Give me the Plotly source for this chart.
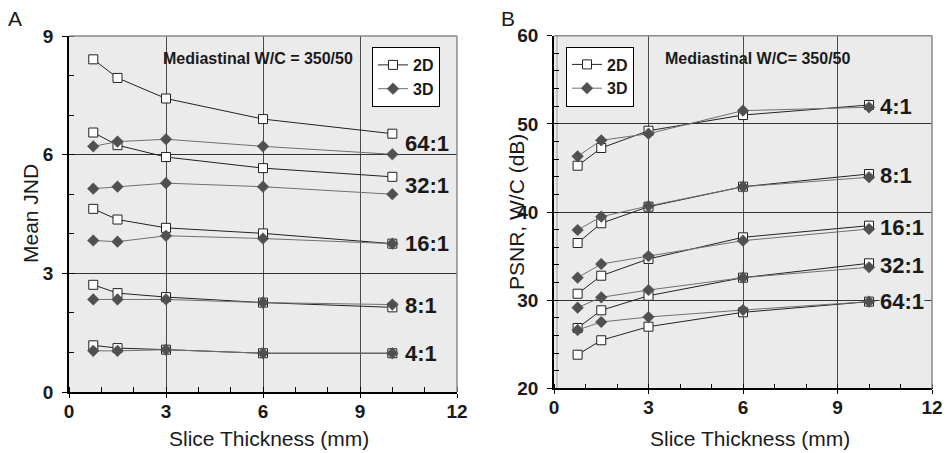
import plotly.graph_objects as go

# ---------------- data ----------------
slice_mm = [0.75, 1.5, 3, 6, 10]
ratio_labels = ["64:1", "32:1", "16:1", "8:1", "4:1"]

# Panel A: Mean JND
jnd_2d_64 = [8.41, 7.94, 7.42, 6.90, 6.53]
jnd_2d_32 = [6.56, 6.24, 5.94, 5.66, 5.44]
jnd_2d_16 = [4.63, 4.36, 4.15, 4.01, 3.75]
jnd_2d_8 = [2.71, 2.50, 2.40, 2.26, 2.14]
jnd_2d_4 = [1.18, 1.11, 1.07, 0.98, 0.98]

jnd_3d_64 = [6.21, 6.33, 6.39, 6.21, 6.01]
jnd_3d_32 = [5.14, 5.19, 5.28, 5.19, 5.00]
jnd_3d_16 = [3.83, 3.80, 3.95, 3.88, 3.75]
jnd_3d_8 = [2.34, 2.34, 2.34, 2.26, 2.21]
jnd_3d_4 = [1.04, 1.04, 1.07, 0.98, 0.98]

# Panel B: PSNR (dB)
psnr_2d_64 = [23.81, 25.45, 26.99, 28.62, 29.83]
psnr_2d_32 = [26.84, 28.85, 30.50, 32.55, 34.18]
psnr_2d_16 = [30.73, 32.77, 34.67, 37.13, 38.45]
psnr_2d_8 = [36.48, 38.72, 40.60, 42.87, 44.31]
psnr_2d_4 = [45.25, 47.26, 49.22, 51.00, 52.14]

psnr_3d_64 = [26.61, 27.52, 28.09, 28.88, 29.83]
psnr_3d_32 = [29.15, 30.32, 31.15, 32.55, 33.73]
psnr_3d_16 = [32.55, 34.10, 35.00, 36.75, 38.07]
psnr_3d_8 = [37.96, 39.47, 40.68, 42.87, 43.94]
psnr_3d_4 = [46.32, 48.13, 48.88, 51.50, 51.88]

x_ticks = [0, 3, 6, 9, 12]
jnd_ticks = [0, 3, 6, 9]
psnr_ticks = [20, 30, 40, 50, 60]

jnd_2d = [jnd_2d_64, jnd_2d_32, jnd_2d_16, jnd_2d_8, jnd_2d_4]
jnd_3d = [jnd_3d_64, jnd_3d_32, jnd_3d_16, jnd_3d_8, jnd_3d_4]
psnr_2d = [psnr_2d_64, psnr_2d_32, psnr_2d_16, psnr_2d_8, psnr_2d_4]
psnr_3d = [psnr_3d_64, psnr_3d_32, psnr_3d_16, psnr_3d_8, psnr_3d_4]

# ---------------- style ----------------
FONT = "Liberation Sans, Arial, sans-serif"
TXT = "#1a1a1a"
BG = "#ebebeb"
LINE2D = "#222222"
LINE3D = "#707070"
MK3D = "#505050"

# page body has an 8px margin: figure is sized to fill the rest of the window
OFF = 8
W, H = 952 - OFF, 453 - OFF


def px(x):
    return (x - OFF) / W


def py(y):
    return 1 - (y - OFF) / H


fig = go.Figure()


def add_series(xa, ya, s2d, s3d, legend_name):
    for i, ys in enumerate(s2d):
        fig.add_trace(go.Scatter(
            x=slice_mm, y=ys, xaxis=xa, yaxis=ya, mode="lines+markers",
            name="2D", legend=legend_name, showlegend=(i == 0), legendgroup="2d" + xa,
            line=dict(color=LINE2D, width=1),
            marker=dict(symbol="square", size=9, color="white",
                        line=dict(color=LINE2D, width=1)),
        ))
    for i, ys in enumerate(s3d):
        fig.add_trace(go.Scatter(
            x=slice_mm, y=ys, xaxis=xa, yaxis=ya, mode="lines+markers",
            name="3D", legend=legend_name, showlegend=(i == 0), legendgroup="3d" + xa,
            line=dict(color=LINE3D, width=1),
            marker=dict(symbol="diamond", size=9, color=MK3D,
                        line=dict(color=MK3D, width=0.5)),
        ))


add_series("x", "y", jnd_2d, jnd_3d, "legend")
add_series("x2", "y2", psnr_2d, psnr_3d, "legend2")

tickfont = dict(family=FONT, size=19, color=TXT)


def xaxis_cfg(domain, anchor):
    return dict(
        domain=domain, range=[0, 12], anchor=anchor,
        tickmode="array", tickvals=x_ticks, ticktext=["<b>%d</b>" % v for v in x_ticks],
        showgrid=True, gridcolor="#4a4a4a", gridwidth=1, zeroline=False,
        showline=True, linecolor="black", linewidth=1.5,
        ticks="outside", ticklen=4, tickcolor="black", tickfont=tickfont,
        ticklabelstandoff=-3,
        minor=dict(dtick=1, tick0=0, ticks="inside", ticklen=5, tickcolor="black", showgrid=False),
        automargin=False, fixedrange=True,
    )


def yaxis_cfg(domain, rng, tv, mdtick, anchor):
    return dict(
        domain=domain, range=rng, anchor=anchor,
        tickmode="array", tickvals=tv, ticktext=["<b>%d</b>" % v for v in tv],
        showgrid=True, gridcolor="#333333", gridwidth=1, zeroline=False,
        showline=True, linecolor="black", linewidth=1.5,
        ticks="outside", ticklen=5, tickcolor="black", tickfont=tickfont,
        ticklabelstandoff=5,
        minor=dict(dtick=mdtick, tick0=rng[0], ticks="inside", ticklen=5, tickcolor="black",
                   showgrid=False),
        automargin=False, fixedrange=True,
    )


dxA = [px(69), px(457)]
dyA = [py(392), py(36)]
dxB = [px(554), px(932)]
dyB = [py(388.3), py(35.7)]

legend_common = dict(
    bgcolor="white", bordercolor="black", borderwidth=1,
    font=dict(family=FONT, size=16, color=TXT, weight="bold"),
    itemwidth=30, xanchor="left", yanchor="top", tracegroupgap=0,
)

fig.update_layout(
    width=W, height=H,
    margin=dict(l=0, r=0, t=0, b=0, autoexpand=False),
    paper_bgcolor="white",
    plot_bgcolor=BG,
    xaxis=xaxis_cfg(dxA, "y"),
    yaxis=yaxis_cfg(dyA, [0, 9], jnd_ticks, 1, "x"),
    xaxis2=xaxis_cfg(dxB, "y2"),
    yaxis2=yaxis_cfg(dyB, [20, 60], psnr_ticks, 2, "x2"),
    legend=dict(legend_common, x=px(372), y=py(47)),
    legend2=dict(legend_common, x=px(566), y=py(46.5)),
    showlegend=True,
)

# top / right frame lines, and the light inner edge of panel B's left axis
for xr, yr in (("x domain", "y domain"), ("x2 domain", "y2 domain")):
    fig.add_shape(type="line", xref=xr, yref=yr, x0=0, x1=1, y0=1, y1=1,
                  line=dict(color="#8a8a8a", width=1.5), layer="above")
    fig.add_shape(type="line", xref=xr, yref=yr, x0=1, x1=1, y0=0, y1=1,
                  line=dict(color="#8a8a8a", width=1.5), layer="above")
fig.add_shape(type="line", xref="x2 domain", yref="y2 domain", x0=0.008, x1=0.008, y0=0, y1=1,
              line=dict(color="#c4c4c4", width=2), layer="below")

ann = []
label_font = dict(family=FONT, size=22, color=TXT, weight="bold")
label_x = 10.33
for name, a, b in zip(ratio_labels, jnd_2d, jnd_3d):
    ann.append(dict(x=label_x, y=(a[-1] + b[-1]) / 2, xref="x", yref="y", text=name,
                    showarrow=False, xanchor="left", yanchor="middle", font=label_font))
for name, a, b in zip(ratio_labels, psnr_2d, psnr_3d):
    ann.append(dict(x=label_x, y=(a[-1] + b[-1]) / 2, xref="x2", yref="y2", text=name,
                    showarrow=False, xanchor="left", yanchor="middle", font=label_font,
                    bgcolor=BG, borderpad=0))


def paper_text(x, y, text, font, angle=0):
    ann.append(dict(x=px(x), y=py(y), xref="paper", yref="paper", text=text,
                    showarrow=False, xanchor="center", yanchor="middle",
                    textangle=angle, font=font))


small_bold = dict(family=FONT, size=16, color=TXT, weight="bold")
paper_text(258, 58, "Mediastinal W/C = 350/50", small_bold)
paper_text(758, 58, "Mediastinal W/C= 350/50", small_bold)

title_font = dict(family=FONT, size=21, color=TXT)
paper_text(269, 438, "Slice Thickness (mm)", title_font)
paper_text(750, 438, "Slice Thickness (mm)", title_font)
paper_text(30, 214, "Mean JND", title_font, -90)
paper_text(517, 212, "PSNR, W/C (dB)", title_font, -90)
paper_text(15, 18, "A", dict(family=FONT, size=21, color=TXT))
paper_text(508, 18, "B", dict(family=FONT, size=21, color=TXT))

fig.update_layout(annotations=ann)

fig.write_html("out.html")
